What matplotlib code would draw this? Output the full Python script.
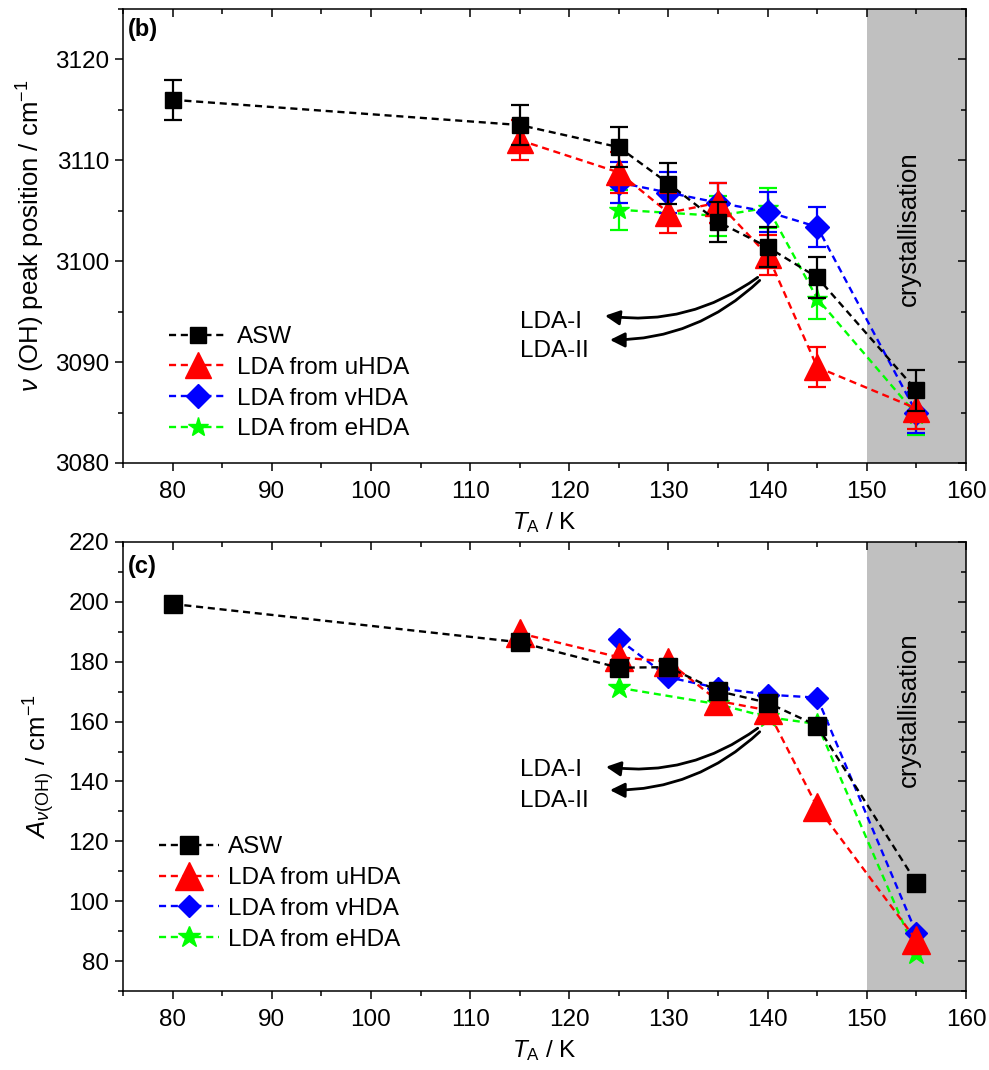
import matplotlib
matplotlib.use('Agg')
from matplotlib import pyplot as plt
from matplotlib.ticker import MultipleLocator

plt.rcParams['font.family'] = ['Liberation Sans', 'DejaVu Sans']
plt.rcParams['mathtext.fontset'] = 'custom'
plt.rcParams['mathtext.rm'] = 'Liberation Sans'
plt.rcParams['mathtext.it'] = 'Liberation Sans:italic'
plt.rcParams['mathtext.bf'] = 'Liberation Sans:bold'
plt.rcParams['font.size'] = 17

# annealing temperatures (K)
t_asw = [80, 115, 125, 130, 135, 140, 145, 155]
t_uhda = [115, 125, 130, 135, 140, 145, 155]
t_vhda = [125, 130, 135, 140, 145, 155]
t_ehda = [125, 135, 140, 145, 155]

# nu(OH) peak position (cm^-1) and errors
pos_asw = [3116.0, 3113.5, 3111.3, 3107.7, 3103.9, 3101.4, 3098.4, 3087.2]
pos_asw_err = [2.0, 2.0, 2.0, 2.0, 2.0, 2.0, 2.0, 2.0]
pos_uhda = [3112.0, 3108.8, 3104.8, 3105.8, 3100.6, 3089.5, 3085.4]
pos_uhda_err = [2.0, 2.0, 2.0, 2.0, 2.0, 2.0, 2.0]
pos_vhda = [3107.8, 3106.8, 3105.8, 3104.9, 3103.4, 3085.0]
pos_vhda_err = [2.0, 2.0, 2.0, 2.0, 2.0, 2.0]
pos_ehda = [3105.1, 3104.5, 3105.3, 3096.3, 3084.8]
pos_ehda_err = [2.0, 2.0, 2.0, 2.0, 2.0]

# nu(OH) band area (cm^-1)
area_asw = [199.3, 186.5, 178.0, 178.2, 170.2, 166.3, 158.6, 106.2]
area_uhda = [189.5, 181.5, 180.0, 166.9, 163.8, 131.5, 87.0]
area_vhda = [187.5, 174.8, 171.2, 169.0, 168.0, 89.3]
area_ehda = [171.3, 165.8, 161.5, 159.2, 82.4]

labels = ['ASW', 'LDA from uHDA', 'LDA from vHDA', 'LDA from eHDA']
colors = ['black', 'red', 'blue', '#00ff00']
markers = ['s', '^', 'D', '*']
dash = (0, (3, 2))

W, H = 989, 1070
fig = plt.figure(figsize=(W / 100, H / 100), dpi=100)
left, width = 123 / W, (966 - 123) / W
ax1 = fig.add_axes([left, 1 - 463 / H, width, (463 - 9) / H])
ax2 = fig.add_axes([left, 1 - 991 / H, width, (991 - 542) / H])


def style_axes(ax, ymin, ymax, ymajor, yminor):
    ax.set_xlim(75, 160)
    ax.set_ylim(ymin, ymax)
    ax.axvspan(150, 160, color='#c0c0c0', zorder=0, lw=0)
    ax.xaxis.set_major_locator(MultipleLocator(10))
    ax.xaxis.set_minor_locator(MultipleLocator(5))
    ax.yaxis.set_major_locator(MultipleLocator(ymajor))
    ax.yaxis.set_minor_locator(MultipleLocator(yminor))
    ax.tick_params(which='both', direction='out', width=1.1, labelsize=17.5,
                   top=True, right=True)
    ax.tick_params(which='major', length=6, pad=4)
    ax.tick_params(which='minor', length=3.5)
    ax.tick_params(axis='x', which='major', pad=7)
    # top and right ticks point inwards
    for which, length in (('major', 6), ('minor', 3.5)):
        for t in ax.xaxis.get_ticklines(minor=(which == 'minor'))[1::2]:
            t.set_marker(3)
            t.set_markersize(length)
        for t in ax.yaxis.get_ticklines(minor=(which == 'minor'))[1::2]:
            t.set_marker(0)
            t.set_markersize(length)
    for s in ax.spines.values():
        s.set_linewidth(1.1)
    ax.set_xlabel(r'$T_\mathrm{A}$ / K', fontsize=17.5, labelpad=5)


style_axes(ax1, 3080, 3125, 10, 5)
style_axes(ax2, 70, 220, 20, 10)

# top panel: peak positions with error bars
top_series = [(t_asw, pos_asw, pos_asw_err, 14, 11),
              (t_uhda, pos_uhda, pos_uhda_err, 12, 19),
              (t_vhda, pos_vhda, pos_vhda_err, 11, 12),
              (t_ehda, pos_ehda, pos_ehda_err, 10, 15)]
for i, (x, y, e, z, ms) in enumerate(top_series):
    ax1.errorbar(x, y, yerr=e, fmt='none', ecolor=colors[i], elinewidth=1.6,
                 capsize=6.5, capthick=1.6, zorder=z)
    ax1.plot(x, y, linestyle=dash, lw=1.7, color=colors[i], marker=markers[i],
             ms=ms, label=labels[i], zorder=z)

# bottom panel: band areas
bottom_series = [(t_asw, area_asw, 14, 13),
                 (t_uhda, area_uhda, 12, 19.5),
                 (t_vhda, area_vhda, 11, 11.5),
                 (t_ehda, area_ehda, 10, 16.5)]
for i, (x, y, z, ms) in enumerate(bottom_series):
    ax2.plot(x, y, linestyle=dash, lw=1.7, color=colors[i], marker=markers[i],
             ms=ms, label=labels[i], zorder=z)

ax1.set_ylabel(r'$\nu$ (OH) peak position / cm$^{-1}$', fontsize=18.5,
               labelpad=6)
ax2.set_ylabel(r'$A_{\nu\mathrm{(OH)}}$ / cm$^{-1}$', fontsize=18.5,
               labelpad=8)

for ax, bb in ((ax1, (0.054, 0.05)), (ax2, (0.043, 0.09))):
    ax.legend(loc='lower left', bbox_to_anchor=bb, frameon=False,
              fontsize=17.5, handlelength=2.45, handletextpad=0.38,
              labelspacing=0.36, borderpad=0, borderaxespad=0)

ax1.text(0.006, 0.954, '(b)', transform=ax1.transAxes, fontweight='bold',
         fontsize=17, va='center', ha='left')
ax2.text(0.006, 0.945, '(c)', transform=ax2.transAxes, fontweight='bold',
         fontsize=17, va='center', ha='left')

# crystallisation region labels
ax1.text(154.2, 3103.2, 'crystallisation', rotation=90, ha='center',
         va='center', fontsize=18.5, zorder=20)
ax2.text(154.2, 163.9, 'crystallisation', rotation=90, ha='center',
         va='center', fontsize=18.5, zorder=20)

# curved arrows pointing at the LDA-I / LDA-II labels
arrow = dict(arrowstyle='-|>', color='black', lw=2.0, mutation_scale=22,
             shrinkA=0, shrinkB=0)
for ax, starts, tips, texts in (
        (ax1, [(139.0, 3098.4), (139.2, 3098.1)],
         [(123.6, 3094.6), (124.1, 3092.2)], [3094.0, 3091.1]),
        (ax2, [(139.0, 157.8), (139.2, 156.6)],
         [(123.7, 144.9), (124.1, 137.1)], [143.8, 133.6])):
    for s, t in zip(starts, tips):
        ax.annotate('', xy=t, xytext=s, zorder=20,
                    arrowprops=dict(arrow, connectionstyle='arc3,rad=-0.2'))
    ax.text(115.0, texts[0], 'LDA-I', fontsize=17.5, va='center', ha='left')
    ax.text(115.0, texts[1], 'LDA-II', fontsize=17.5, va='center', ha='left')

fig.savefig('out.png', dpi=100)
